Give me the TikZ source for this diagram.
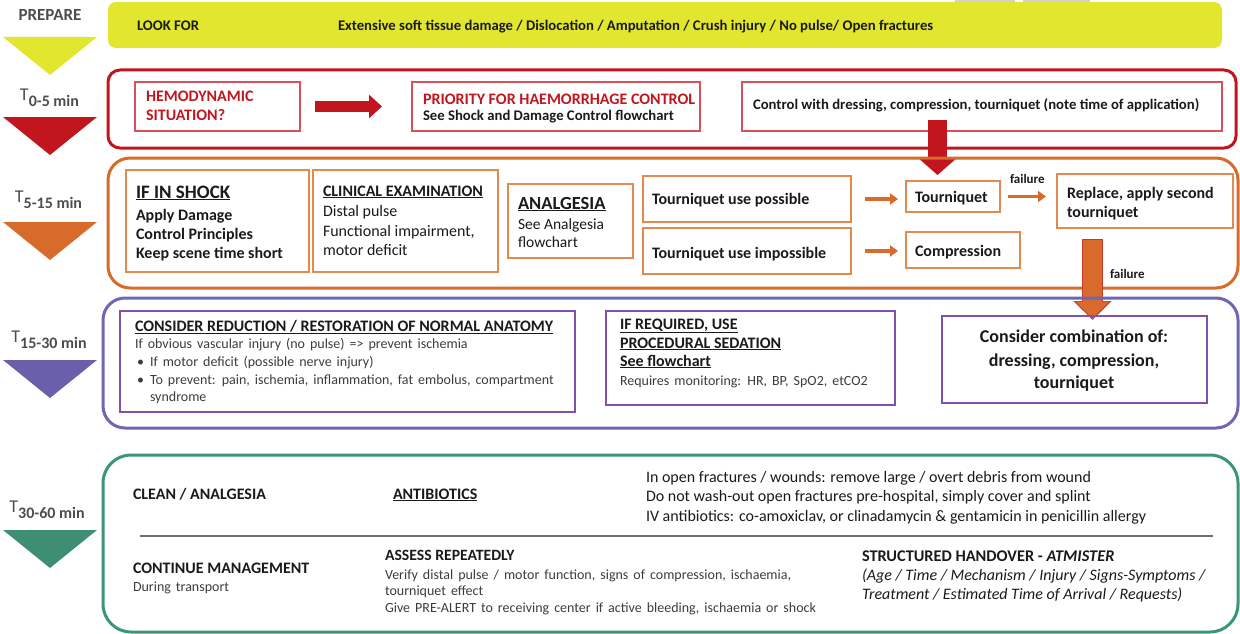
\documentclass[tikz,border=0pt]{standalone}
\usepackage{fontspec}
\setmainfont{Carlito}
\usetikzlibrary{arrows.meta}
\definecolor{cYel}{HTML}{E2E62E}
\definecolor{cRed}{HTML}{C2161E}
\definecolor{cRedL}{HTML}{D95058}
\definecolor{cOra}{HTML}{D86A2C}
\definecolor{cOraL}{HTML}{E38A50}
\definecolor{cOraEdge}{HTML}{C83A28}
\definecolor{cPur}{HTML}{6F66B4}
\definecolor{cPurT}{HTML}{6A5FAB}
\definecolor{cPurL}{HTML}{8050AA}
\definecolor{cGrn}{HTML}{3C9479}
\definecolor{cGrnT}{HTML}{3E8E74}
\definecolor{cTxt}{HTML}{1A1A1A}
\definecolor{cGrayT}{HTML}{4D4D4D}
\definecolor{cRule}{HTML}{6E6E6E}
\newcommand\fsz[1]{\fontsize{#1}{#1}\selectfont}
\newcommand\tsub[1]{{\mdseries T}\raisebox{-6pt}{\fsz{16}#1}}
\newcommand\widesp{\spaceskip=5pt\relax}

\begin{document}
\begin{tikzpicture}[x=1pt,y=-1pt,
  every node/.style={inner sep=0pt, outer sep=0pt},
  tb/.style={anchor=base west, text=cTxt, font=\fsz{14.7}\bfseries},
  th/.style={anchor=base west, text=cTxt, font=\fsz{16}\bfseries},
  tr/.style={anchor=base west, text=cTxt, font=\fsz{15.5}},
  ts/.style={anchor=base west, text=cTxt!85, font=\fsz{14}\widesp},
  tf/.style={anchor=base west, text=cTxt, font=\fsz{13}\bfseries},
  tred/.style={anchor=base west, text=cRed, font=\fsz{16}\bfseries},
  tlab/.style={anchor=base, text=cGrayT, font=\fsz{18}\bfseries},
  band/.style={draw, line width=3pt, anchor=north west, rounded corners=22pt},
  rin/.style={draw=cRedL, line width=1.8pt, anchor=north west},
  oin/.style={draw=cOraL, line width=1.8pt, anchor=north west},
  pin/.style={draw=cPurL, line width=1.8pt, anchor=north west},
  redblock/.style={draw=cRed, line width=11pt, -{Triangle[length=13pt,width=23pt]}},
  oarr/.style={draw=cOra, line width=3.5pt, -{Triangle[length=8pt,width=11pt]}},
]
\useasboundingbox (0,0) rectangle (1240,634);

% faint marks along the top edge
\fill[gray!35] (955,0) rectangle (1015,2.5);
\fill[gray!35] (1023,0) rectangle (1090,2.5);

% ---------- time column ----------
\node[anchor=base, text=cGrayT, font=\fsz{17}\bfseries] (lprep) at (50,21) {PREPARE};
\fill[cYel] (3,37) -- (97,37) -- (50,75) -- cycle;
\node[tlab] (l1) at (49.5,100) {\tsub{0-5 min}};
\fill[cRed] (3,117) -- (97,117) -- (50,155) -- cycle;
\node[tlab] (l2) at (48.5,202) {\tsub{5-15 min}};
\fill[cOra] (3,222) -- (97,222) -- (50,260) -- cycle;
\node[tlab] (l3) at (49,342) {\tsub{15-30 min}};
\fill[cPurT] (3,360) -- (97,360) -- (50,398) -- cycle;
\node[tlab] (l4) at (47,512) {\tsub{30-60 min}};
\fill[cGrnT] (3,530) -- (97,530) -- (50,568) -- cycle;

% ---------- prepare ----------
\node[fill=cYel, rounded corners=8pt, anchor=north west, minimum width=1114pt, minimum height=46pt] (prep) at (108,2) {};
\node[tb] (look) at (137,31) {LOOK FOR};
\node[tb] (lookl) at (338,31) {Extensive soft tissue damage / Dislocation / Amputation / Crush injury / No pulse/ Open fractures};

% ---------- 0-5 min ----------
\node[band, draw=cRed, rounded corners=12pt, minimum width=1128pt, minimum height=78pt] (b1) at (108,70) {};
\node[rin, minimum width=165pt, minimum height=49pt] (hemo) at (135,82) {};
\node[rin, minimum width=288pt, minimum height=49pt] (prio) at (412,82) {};
\node[rin, minimum width=480pt, minimum height=49pt] (ctrl) at (742,82) {};
\node[tred] (hemo1) at (146,102) {HEMODYNAMIC};
\node[tred] (hemo2) at (146,120) {SITUATION?};
\node[tred] (prio1) at (423,104) {PRIORITY FOR HAEMORRHAGE CONTROL};
\node[tb] (prio2) at (423,121) {See Shock and Damage Control flowchart};
\node[tb] (ctrl1) at (753,110) {Control with dressing, compression, tourniquet (note time of application)};

\draw[redblock, shorten <=15pt, shorten >=30pt] (hemo) -- (prio);

% down arrow into the tourniquet step (its tip lies under the next band's edge)
\coordinate (rdtop) at (937.5,120);
\coordinate (rdend) at (937.5,175);
\draw[draw=cRed, line width=19pt, -{Triangle[length=18pt,width=40pt]}] (rdtop) -- (rdend);

% ---------- 5-15 min ----------
\node[band, draw=cOra, minimum width=1130pt, minimum height=130pt] (b2) at (108,158) {};
\node[oin, minimum width=183pt, minimum height=102pt] (shock) at (126,170) {};
\node[oin, minimum width=185pt, minimum height=102pt] (clin) at (313,170) {};
\node[oin, minimum width=125pt, minimum height=74pt] (anal) at (508,184) {};
\node[oin, minimum width=208pt, minimum height=46pt] (tqp) at (643,176) {};
\node[oin, minimum width=208pt, minimum height=46pt] (tqi) at (643,228) {};
\node[oin, minimum width=94pt, minimum height=31pt] (tq) at (906,181) {};
\node[oin, minimum width=114pt, minimum height=36pt] (comp) at (906,232) {};
\node[oin, minimum width=176pt, minimum height=54pt] (rep) at (1057,174) {};

\node[th, font=\fsz{19}\bfseries] (s1) at (136,198) {\underline{IF IN SHOCK}};
\node[th] (s2) at (136,220) {Apply Damage};
\node[th] (s3) at (136,239) {Control Principles};
\node[th] (s4) at (136,258) {Keep scene time short};
\node[th] (c1) at (323,196) {\underline{CLINICAL EXAMINATION}};
\node[tr, font=\fsz{16}] (c2) at (323,216) {Distal pulse};
\node[tr, font=\fsz{16}] (c3) at (323,236) {Functional impairment,};
\node[tr, font=\fsz{16}] (c4) at (323,255) {motor deficit};
\node[th, font=\fsz{18.5}\bfseries] (a1) at (518,209) {\underline{ANALGESIA}};
\node[tr] (a2) at (518,229) {See Analgesia};
\node[tr] (a3) at (518,247) {flowchart};
\node[th] (p1) at (652,204) {Tourniquet use possible};
\node[th] (i1) at (652,258) {Tourniquet use impossible};
\node[th] (q1) at (915,202) {Tourniquet};
\node[th] (m1) at (915,256) {Compression};
\node[th] (r1) at (1067,198) {Replace, apply second};
\node[th] (r2) at (1067,217) {tourniquet};
\node[tf] (f1) at (1010,183) {failure};
\node[tf] (f2) at (1110,278) {failure};

\draw[oarr, shorten <=14pt, shorten >=8pt] (tqp.east) -- (tqp.east -| tq.west);
\draw[oarr, shorten <=14pt, shorten >=8pt] (tqi.east) -- (tqi.east -| comp.west);
\draw[oarr, shorten <=8pt, shorten >=11pt] (tq.east) -- (tq.east -| rep.west);

% down arrow on failure, outlined
\coordinate (odtop) at (1092.5,240);
\coordinate (odend) at (1092.5,320);
\draw[draw=cOraEdge, line width=21pt, -{Triangle[length=19pt,width=37pt]}, shorten <=-1pt] (odtop) -- (odend);
\draw[draw=cOra, line width=19pt, -{Triangle[length=16.5pt,width=33pt]}, shorten >=1.8pt] (odtop) -- (odend);

% ---------- 15-30 min ----------
\node[band, draw=cPur, minimum width=1135pt, minimum height=130pt] (b3) at (103,298) {};
\node[pin, minimum width=455pt, minimum height=101pt] (redu) at (120,311) {};
\node[pin, minimum width=289pt, minimum height=94pt] (sed) at (606,311) {};
\node[pin, minimum width=265pt, minimum height=87pt] (comb) at (942,316) {};

\node[th] (u1) at (135,331) {\underline{CONSIDER REDUCTION / RESTORATION OF NORMAL ANATOMY}};
\node[ts] (u2) at (135,348) {If obvious vascular injury (no pulse) => prevent ischemia};
\node[ts] (u3b) at (137,366) {\textbullet};
\node[ts] (u3) at (150,366) {If motor deficit (possible nerve injury)};
\node[ts] (u4b) at (137,384) {\textbullet};
\node[ts] (u4) at (150,384) {To prevent: pain, ischemia, inflammation, fat embolus, compartment};
\node[ts] (u5) at (150,401) {syndrome};
\node[th] (e1) at (620,329) {\underline{IF REQUIRED, USE}};
\node[th] (e2) at (620,348) {\underline{PROCEDURAL SEDATION}};
\node[th] (e3) at (620,366) {\underline{See flowchart}};
\node[ts] (e4) at (620,385) {Requires monitoring: HR, BP, SpO2, etCO2};
\node[th, anchor=base, font=\fsz{18}\bfseries] (k1) at (1074,342) {Consider combination of:};
\node[th, anchor=base, font=\fsz{18}\bfseries] (k2) at (1074,366) {dressing, compression,};
\node[th, anchor=base, font=\fsz{18}\bfseries] (k3) at (1074,388) {tourniquet};

% ---------- 30-60 min ----------
\node[band, draw=cGrn, rounded corners=28pt, minimum width=1135pt, minimum height=177pt] (b4) at (103,455) {};
\coordinate (ruleL) at (140,536);
\coordinate (ruleR) at (1213,536);
\draw[cRule, line width=2.5pt] (ruleL) -- (ruleR);

\node[th] (g1) at (133,499) {CLEAN / ANALGESIA};
\node[th] (g2) at (393,499) {\underline{ANTIBIOTICS}};
\node[tr, font=\fsz{16}] (g3) at (646,482) {In open fractures / wounds: remove large / overt debris from wound};
\node[tr, font=\fsz{16}] (g4) at (646,501) {Do not wash-out open fractures pre-hospital, simply cover and splint};
\node[tr, font=\fsz{16}] (g5) at (646,521) {IV antibiotics: co-amoxiclav, or clinadamycin \& gentamicin in penicillin allergy};
\node[th] (h1) at (133,573) {CONTINUE MANAGEMENT};
\node[ts] (h2) at (133,591) {During transport};
\node[th, font=\fsz{15.7}\bfseries] (h3) at (385,560) {ASSESS REPEATEDLY};
\node[ts] (h4) at (385,579) {Verify distal pulse / motor function, signs of compression, ischaemia,};
\node[ts] (h5) at (385,595) {tourniquet effect};
\node[ts] (h6) at (385,612) {Give PRE-ALERT to receiving center if active bleeding, ischaemia or shock};
\node[th, font=\fsz{16.3}\bfseries] (h7) at (862,561) {STRUCTURED HANDOVER - \textit{ATMISTER}};
\node[tr, font=\fsz{16}\itshape] (h8) at (862,580) {(Age / Time / Mechanism / Injury / Signs-Symptoms /};
\node[tr, font=\fsz{16}\itshape] (h9) at (862,599) {Treatment / Estimated Time of Arrival / Requests)};
\end{tikzpicture}
\end{document}
